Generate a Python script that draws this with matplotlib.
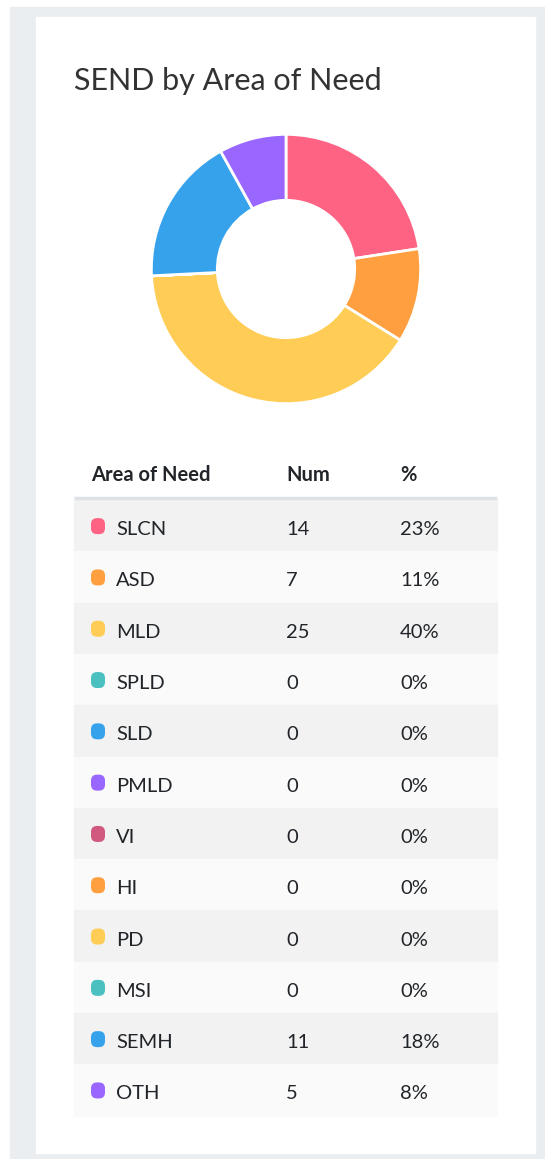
import matplotlib
matplotlib.use('Agg')
import matplotlib.pyplot as plt
from matplotlib.patches import Rectangle, FancyBboxPatch

# data
areas = ['SLCN', 'ASD', 'MLD', 'SPLD', 'SLD', 'PMLD', 'VI', 'HI', 'PD', 'MSI', 'SEMH', 'OTH']
nums = [14, 7, 25, 0, 0, 0, 0, 0, 0, 0, 11, 5]
colors = ['#ff6384', '#ff9f40', '#ffcd56', '#4bc0c0', '#36a2eb', '#9966ff',
          '#d1587e', '#ff9f40', '#ffcd56', '#4bc0c0', '#36a2eb', '#9966ff']
headers = ['Area of Need', 'Num', '%']
title = 'SEND by Area of Need'

total = sum(nums)
pcts = ['%d%%' % round(n * 100 / total) for n in nums]

W, H = 545, 1159
plt.rcParams['font.family'] = ['Lato', 'DejaVu Sans']
fig = plt.figure(figsize=(W / 100, H / 100), dpi=100, facecolor='white')

# background axes in pixel coordinates
bg = fig.add_axes([0, 0, 1, 1])
bg.set_xlim(0, W)
bg.set_ylim(H, 0)
bg.axis('off')

bg.add_patch(Rectangle((10, 7), W - 10, 1151, color='#eaeef1', zorder=0))
bg.add_patch(Rectangle((36, 17), 499, 1136, color='white', zorder=1))

bg.text(74, 90, title, fontsize=22, color='#333333', va='baseline', ha='left', zorder=3)

# table
row_top = 500
row_h = 51.3
tx0, tx1 = 74, 497
col_x = [116, 286, 400]
txt = '#212529'

hy = 481
bg.text(91, hy, headers[0], fontsize=14.5, fontweight='bold', color=txt, va='baseline', zorder=3)
bg.text(col_x[1], hy, headers[1], fontsize=14.5, fontweight='bold', color=txt, va='baseline', zorder=3)
bg.text(col_x[2], hy, headers[2], fontsize=14.5, fontweight='bold', color=txt, va='baseline', zorder=3)
bg.plot([tx0, tx1], [498, 498], color='#dee2e6', lw=2.5, zorder=3, solid_capstyle='butt')

for i, (a, n, p, c) in enumerate(zip(areas, nums, pcts, colors)):
    y0 = row_top + i * row_h
    yc = y0 + row_h / 2
    shade = '#f2f2f2' if i % 2 == 0 else '#fafafa'
    bg.add_patch(Rectangle((tx0, y0), tx1 - tx0, row_h, color=shade, zorder=2))
    bg.add_patch(FancyBboxPatch((91, yc - 7.5), 14, 16,
                                boxstyle='round,pad=0,rounding_size=6',
                                fc=c, ec='none', zorder=3))
    bg.text(col_x[0], yc + 9.5, a, fontsize=14.5, color=txt, va='baseline', zorder=3)
    bg.text(col_x[1], yc + 9.5, str(n), fontsize=14.5, color=txt, va='baseline', zorder=3)
    bg.text(col_x[2], yc + 9.5, p, fontsize=14.5, color=txt, va='baseline', zorder=3)

# donut
cx, cy, r = 286, 269, 136
ax = fig.add_axes([(cx - r) / W, (H - cy - r) / H, 2 * r / W, 2 * r / H])
ax.pie(nums, colors=colors, startangle=90, counterclock=False, radius=1,
       wedgeprops=dict(width=0.49, edgecolor='white', linewidth=2))
ax.set_xlim(-1.01, 1.01)
ax.set_ylim(-1.01, 1.01)
ax.axis('off')

fig.savefig('out.png', dpi=100, facecolor='white')
